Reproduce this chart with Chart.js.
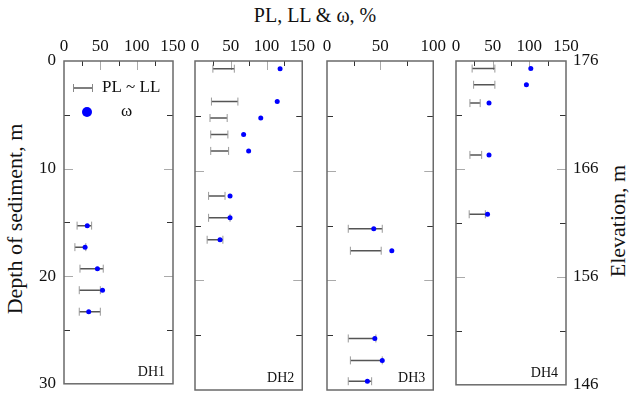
<!DOCTYPE html>
<html>
<head>
<meta charset="utf-8">
<script src="https://cdn.jsdelivr.net/npm/chart.js@4.4.1/dist/chart.umd.min.js"></script>
<style>
  html, body { margin: 0; padding: 0; background: #fff; }
  #wrap { position: relative; width: 629px; height: 402px; overflow: hidden;
          font-family: 'Liberation Serif', 'DejaVu Serif', serif; color: #111; }
  #wrap canvas { position: absolute; top: 0; }
  .title-top { position: absolute; top: 4px; left: 315px; transform: translateX(-50%);
               font-size: 20px; white-space: nowrap; }
  .title-side { position: absolute; font-size: 22px; white-space: nowrap;
                transform: translate(-50%, -50%) rotate(-90deg); }
</style>
</head>
<body>
<div id="wrap">
  <div class="title-top">PL, LL &amp; ω, %</div>
  <div class="title-side" style="left:15px; top:219px;">Depth of sediment, m</div>
  <div class="title-side" style="left:618px; top:221px;">Elevation, m</div>
  <canvas id="dh1" width="190" height="402" style="left:0px"></canvas>
  <canvas id="dh2" width="139" height="402" style="left:180px"></canvas>
  <canvas id="dh3" width="138" height="402" style="left:312px"></canvas>
  <canvas id="dh4" width="164" height="402" style="left:441px"></canvas>
</div>
<script>
// ── Data: depth (m), plastic limit, liquid limit, water content ω (%) ──
const dh1Depth = [15.3, 17.3, 19.3, 21.3, 23.3];
const dh1PL    = [18, 15, 22, 21, 21];
const dh1LL    = [38, 30, 54, 50, 50];
const dh1W     = [32, 29, 46, 53, 34];

const dh2Depth = [0.7, 3.7, 5.2, 6.7, 8.2, 12.3, 14.3, 16.3];
const dh2PL    = [25, 23, 21, 22, 22, 19, 19, 17];
const dh2LL    = [55, 60, 45, 46, 47, 42, 49, 39];
const dh2W     = [119, 115, 92, 68, 75, 49, 49, 35];

const dh3Depth = [15.3, 17.3, 25.3, 27.3, 29.2];
const dh3PL    = [20, 22, 20, 22, 20];
const dh3LL    = [52, 51, 46, 52, 42];
const dh3W     = [44, 61, 45, 52, 38];

const dh4Depth = [0.7, 2.2, 3.9, 8.7, 14.2];
const dh4PL    = [22, 24, 19, 19, 18];
const dh4LL    = [53, 53, 33, 35, 40];
const dh4W     = [102, 96, 45, 45, 43];

const depthTicks = [0, 10, 20, 30];
const elevTicks  = [146, 156, 166, 176];

const SERIF = "'Liberation Serif', 'DejaVu Serif', serif";
const TOP = 61;      // plot top edge in px
const BOTTOM = 12;   // space under the plot

Chart.defaults.font.family = SERIF;
Chart.defaults.color = '#111';

// ── Frame, inward ticks, hole label and legend ──
const frameAndTicks = {
  id: 'frameAndTicks',
  beforeDatasetsDraw(chart, args, opts) {
    const { ctx, chartArea: a, scales } = chart;
    const xs = scales.x, ys = scales.y;
    ctx.save();
    ctx.lineWidth = 1;
    // x ticks along the top edge every 25
    for (let v = 25; v < xs.max; v += 25) {
      const px = Math.round(xs.getPixelForValue(v)) + 0.5;
      const major = v % 50 === 0;
      ctx.strokeStyle = major ? '#aaa' : '#333';
      ctx.beginPath();
      ctx.moveTo(px, a.top);
      ctx.lineTo(px, a.top + (major ? 9 : 5));
      ctx.stroke();
    }
    // depth ticks on both sides every 5 m
    for (let v = 5; v < 30; v += 5) {
      const py = Math.round(ys.getPixelForValue(v)) + 0.5;
      const major = v % 10 === 0;
      const len = major ? 9 : 6;
      ctx.strokeStyle = major ? '#aaa' : '#333';
      ctx.beginPath();
      ctx.moveTo(a.left, py); ctx.lineTo(a.left + len, py);
      ctx.moveTo(a.right, py); ctx.lineTo(a.right - len, py);
      ctx.stroke();
    }
    // frame
    ctx.strokeStyle = '#6a6a6a';
    ctx.lineWidth = 1.5;
    ctx.strokeRect(a.left, a.top, a.right - a.left, a.bottom - a.top);

    // hole name
    ctx.fillStyle = '#111';
    ctx.font = '14px ' + SERIF;
    ctx.textAlign = 'right';
    ctx.textBaseline = 'alphabetic';
    ctx.fillText(opts.label, a.right - 8, a.bottom - 8);

    if (opts.legend) {
      const ly = a.top + 27;
      ctx.strokeStyle = '#555';
      ctx.lineWidth = 1.5;
      ctx.beginPath();
      ctx.moveTo(a.left + 9, ly); ctx.lineTo(a.left + 29, ly);
      ctx.stroke();
      ctx.strokeStyle = '#888';
      ctx.lineWidth = 1;
      ctx.beginPath();
      ctx.moveTo(a.left + 9.5, ly - 4); ctx.lineTo(a.left + 9.5, ly + 4);
      ctx.moveTo(a.left + 28.5, ly - 4); ctx.lineTo(a.left + 28.5, ly + 4);
      ctx.stroke();
      ctx.font = '17px ' + SERIF;
      ctx.textAlign = 'left';
      ctx.textBaseline = 'middle';
      ctx.fillText('PL ~ LL', a.left + 38, ly);
      ctx.fillStyle = '#0000ff';
      ctx.beginPath();
      ctx.arc(a.left + 23, a.top + 51, 5, 0, Math.PI * 2);
      ctx.fill();
      ctx.fillStyle = '#111';
      ctx.fillText('ω', a.left + 57, a.top + 51);
    }
    ctx.restore();
  }
};

function buildDatasets(depth, pl, ll, w) {
  const sets = [{
    label: 'ω',
    data: w.map((v, i) => ({ x: v, y: depth[i] })),
    backgroundColor: '#0000ff',
    borderColor: '#0000ff',
    pointRadius: 2.5,
    borderWidth: 0
  }];
  depth.forEach((d, i) => {
    sets.push({
      label: 'PL ~ LL',
      data: [{ x: pl[i], y: d }, { x: ll[i], y: d }],
      showLine: true,
      borderColor: '#555',
      borderWidth: 1.5,
      pointStyle: 'line',
      pointRotation: 90,
      pointRadius: 4,
      pointBorderColor: '#999',
      pointBorderWidth: 1
    });
  });
  return sets;
}

function makePanel(id, cfg) {
  const tickFont = { family: SERIF, size: 17 };
  const scales = {
    x: {
      type: 'linear', position: 'top', min: 0, max: cfg.xMax,
      ticks: { stepSize: 50, padding: 4, color: '#111', font: tickFont, maxRotation: 0, autoSkip: false },
      grid: { display: false, drawTicks: false },
      border: { display: false },
      afterFit: s => { s.height = TOP; }
    },
    y: {
      type: 'linear', position: 'left', min: 0, max: 30, reverse: true,
      display: !!cfg.depthAxis,
      ticks: { stepSize: 10, padding: 8, color: '#111', font: tickFont,
               callback: v => depthTicks.includes(v) ? v : '' },
      grid: { display: false, drawTicks: false },
      border: { display: false },
      afterFit: s => { s.width = cfg.depthAxis ? 64 : 0; }
    }
  };
  if (cfg.elevAxis) {
    scales.y2 = {
      type: 'linear', position: 'right', min: elevTicks[0], max: elevTicks[elevTicks.length - 1],
      ticks: { stepSize: 10, padding: 7, color: '#111', font: tickFont },
      grid: { display: false, drawTicks: false },
      border: { display: false },
      afterFit: s => { s.width = 39; }
    };
  }
  new Chart(document.getElementById(id), {
    type: 'scatter',
    data: { datasets: buildDatasets(cfg.depth, cfg.pl, cfg.ll, cfg.w) },
    options: {
      responsive: false,
      animation: false,
      events: [],
      layout: { padding: cfg.padding },
      plugins: {
        legend: { display: false },
        tooltip: { enabled: false },
        frameAndTicks: { label: cfg.label, legend: !!cfg.legend }
      },
      scales
    },
    plugins: [frameAndTicks]
  });
}

makePanel('dh1', { label: 'DH1', xMax: 150, depth: dh1Depth, pl: dh1PL, ll: dh1LL, w: dh1W,
  depthAxis: true, legend: true, padding: { left: 0, right: 17, top: 0, bottom: BOTTOM } });
makePanel('dh2', { label: 'DH2', xMax: 150, depth: dh2Depth, pl: dh2PL, ll: dh2LL, w: dh2W,
  padding: { left: 15, right: 15, top: 0, bottom: BOTTOM } });
makePanel('dh3', { label: 'DH3', xMax: 100, depth: dh3Depth, pl: dh3PL, ll: dh3LL, w: dh3W,
  padding: { left: 15, right: 15, top: 0, bottom: BOTTOM } });
makePanel('dh4', { label: 'DH4', xMax: 150, depth: dh4Depth, pl: dh4PL, ll: dh4LL, w: dh4W,
  elevAxis: true, padding: { left: 15, right: 0, top: 0, bottom: BOTTOM } });
</script>
</body>
</html>
